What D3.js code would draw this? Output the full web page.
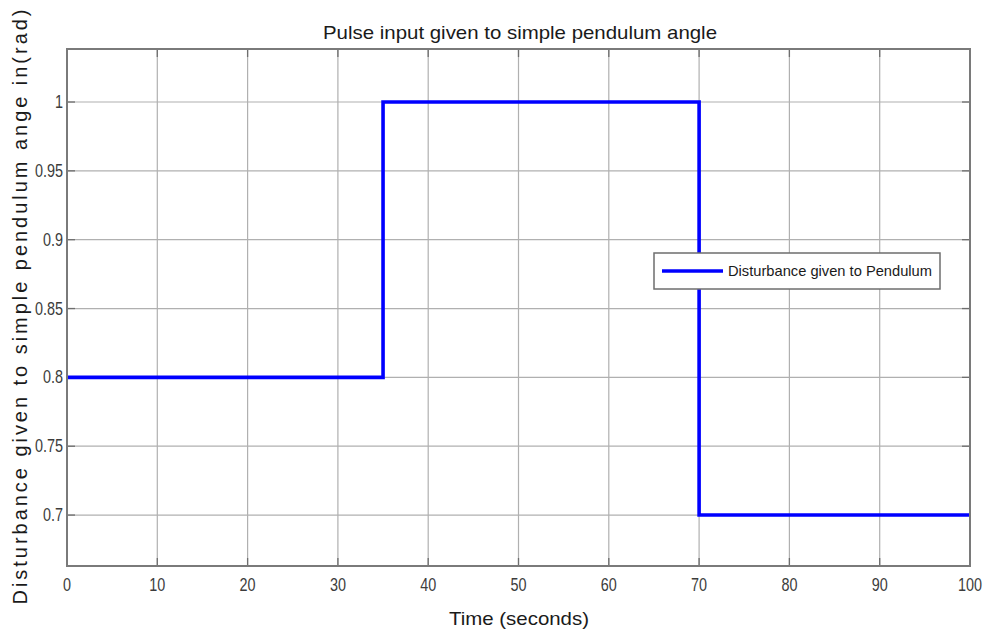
<!DOCTYPE html>
<html>
<head>
<meta charset="utf-8">
<script src="https://cdn.jsdelivr.net/npm/d3@7"></script>
<style>
  body { margin: 0; background: #fff; }
  text { font-family: "Liberation Sans", Arial, sans-serif; }
</style>
</head>
<body>
<svg id="chart" width="987" height="631"></svg>
<script>
// step input: time breakpoints and levels
let timePts = [0, 35, 35, 70, 70, 100];
let angleVals = [0.8, 0.8, 1.0, 1.0, 0.7, 0.7];
let xTicks = [0, 10, 20, 30, 40, 50, 60, 70, 80, 90, 100];
let yTicks = [0.7, 0.75, 0.8, 0.85, 0.9, 0.95, 1];

let svg = d3.select("#chart");
let margin = {left: 67, top: 49, right: 17, bottom: 65};
let w = 987 - margin.left - margin.right;
let h = 631 - margin.top - margin.bottom;

let x = d3.scaleLinear().domain([0, 100]).range([0, w]);
let y = d3.scaleLinear().domain([0.663, 1.0385]).range([h, 0]);

let g = svg.append("g").attr("transform", "translate(" + margin.left + "," + margin.top + ")");

// grid
g.selectAll(".vgrid").data(xTicks.slice(1, -1)).enter().append("line")
    .attr("x1", d => x(d)).attr("x2", d => x(d))
    .attr("y1", 0).attr("y2", h)
    .style("stroke", "#b0b0b0").style("stroke-width", 1.2);
g.selectAll(".hgrid").data(yTicks).enter().append("line")
    .attr("x1", 0).attr("x2", w)
    .attr("y1", d => y(d)).attr("y2", d => y(d))
    .style("stroke", "#b0b0b0").style("stroke-width", 1.2);

// inner ticks on all four sides
let tickLen = 8;
let tickCol = "#6e6e6e";
xTicks.forEach(function(t){
    g.append("line").attr("x1", x(t)).attr("x2", x(t)).attr("y1", h).attr("y2", h - tickLen)
        .style("stroke", tickCol).style("stroke-width", 1.3);
    g.append("line").attr("x1", x(t)).attr("x2", x(t)).attr("y1", 0).attr("y2", tickLen)
        .style("stroke", tickCol).style("stroke-width", 1.3);
});
yTicks.forEach(function(t){
    g.append("line").attr("x1", 0).attr("x2", tickLen).attr("y1", y(t)).attr("y2", y(t))
        .style("stroke", tickCol).style("stroke-width", 1.3);
    g.append("line").attr("x1", w).attr("x2", w - tickLen).attr("y1", y(t)).attr("y2", y(t))
        .style("stroke", tickCol).style("stroke-width", 1.3);
});

// signal
let line = d3.line().x(d => x(d[0])).y(d => y(d[1]));
g.append("path")
    .datum(timePts.map((t, i) => [t, angleVals[i]]))
    .attr("d", line)
    .style("fill", "none")
    .style("stroke", "#0000ff")
    .style("stroke-width", 3.6);

// box
g.append("rect").attr("x", 0).attr("y", 0).attr("width", w).attr("height", h)
    .style("fill", "none").style("stroke", "#7a7a7a").style("stroke-width", 2);

// tick labels (narrow, like the matlab export)
g.selectAll(".xl").data(xTicks).enter().append("text")
    .attr("transform", d => "translate(" + x(d) + "," + (h + 25) + ") scale(0.8,1)")
    .attr("text-anchor", "middle")
    .style("font-size", "18px").style("fill", "#3c3c3c")
    .text(d => d);
g.selectAll(".yl").data(yTicks).enter().append("text")
    .attr("transform", d => "translate(-4," + (y(d) + 6) + ") scale(0.8,1)")
    .attr("text-anchor", "end")
    .style("font-size", "18px").style("fill", "#3c3c3c")
    .text(d => d);

// title and axis labels
svg.append("text").attr("x", 520).attr("y", 39).attr("text-anchor", "middle")
    .attr("textLength", 394).attr("lengthAdjust", "spacingAndGlyphs")
    .style("font-size", "19px").style("fill", "#1a1a1a")
    .text("Pulse input given to simple pendulum angle");
svg.append("text").attr("x", 519).attr("y", 625).attr("text-anchor", "middle")
    .attr("textLength", 140).attr("lengthAdjust", "spacingAndGlyphs")
    .style("font-size", "19px").style("fill", "#1a1a1a")
    .text("Time (seconds)");
svg.append("text")
    .attr("transform", "translate(27,307) rotate(-90)")
    .attr("text-anchor", "middle")
    .attr("textLength", 595).attr("lengthAdjust", "spacing")
    .style("font-size", "20px").style("fill", "#1a1a1a")
    .text("Disturbance given to simple pendulum ange in(rad)");

// legend
let lg = svg.append("g").attr("transform", "translate(654,253)");
lg.append("rect").attr("width", 286).attr("height", 36)
    .style("fill", "#fff").style("stroke", "#6e6e6e").style("stroke-width", 1.5);
lg.append("line").attr("x1", 8).attr("x2", 69).attr("y1", 18).attr("y2", 18)
    .style("stroke", "#0000ff").style("stroke-width", 3.6);
lg.append("text").attr("x", 74).attr("y", 23)
    .attr("textLength", 204).attr("lengthAdjust", "spacingAndGlyphs")
    .style("font-size", "15px").style("fill", "#1a1a1a")
    .text("Disturbance given to Pendulum");
</script>
</body>
</html>
